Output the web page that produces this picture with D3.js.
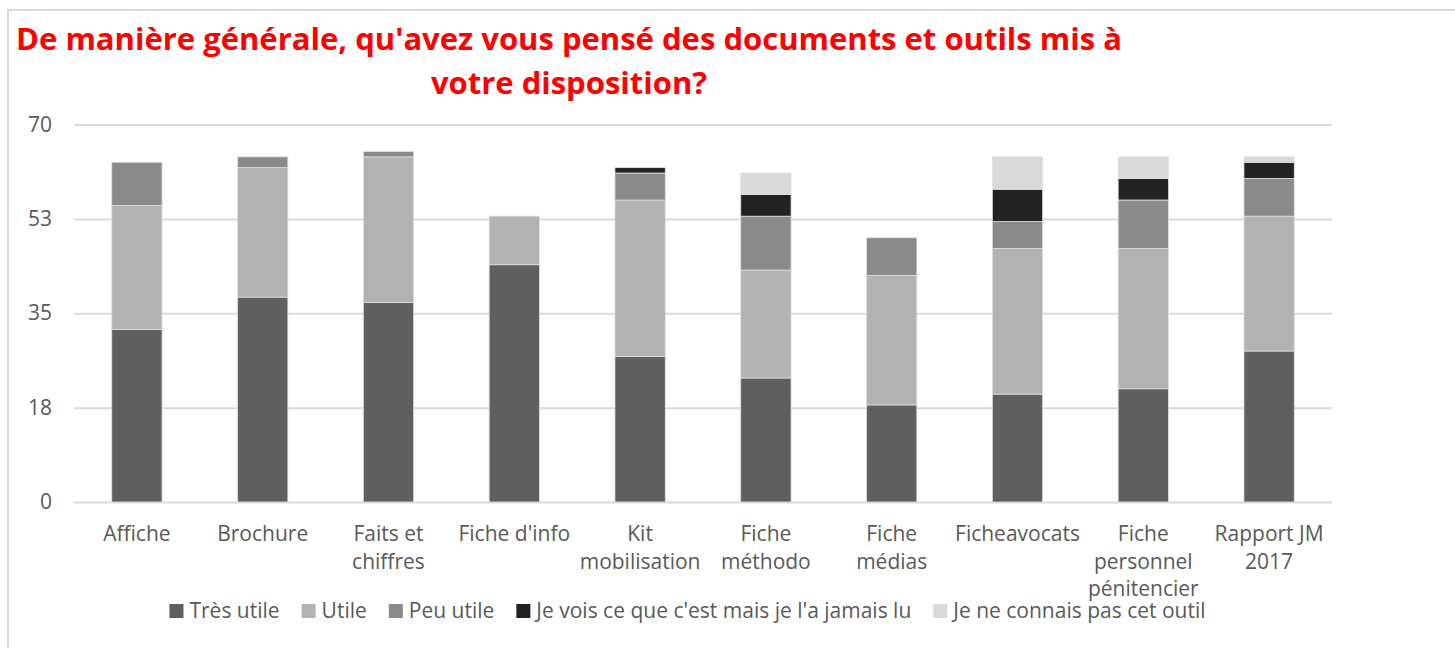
<!DOCTYPE html>
<html>
<head>
<meta charset="utf-8">
<script src="https://cdn.jsdelivr.net/npm/d3@7"></script>
<style>
	body { margin: 0; background: #fff; }
	svg { display: block; font-family: 'Open Sans', sans-serif; }
	.axis text { fill: #595959; }
	.title { fill: #ff0000; font-weight: bold; }
</style>
</head>
<body>
<svg id="chart" width="1455" height="648"></svg>
<script>
// data
const categories = ['Affiche', 'Brochure', 'Faits et chiffres', "Fiche d'info", 'Kit mobilisation',
	'Fiche méthodo', 'Fiche médias', 'Ficheavocats', 'Fiche personnel pénitencier', 'Rapport JM 2017'];
const seriesNames = ['Très utile', 'Utile', 'Peu utile', "Je vois ce que c'est mais je l'a jamais lu", 'Je ne connais pas cet outil'];
const tresUtile = [32, 38, 37, 44, 27, 23, 18, 20, 21, 28];
const utile = [23, 24, 27, 9, 29, 20, 24, 27, 26, 25];
const peuUtile = [8, 2, 1, 0, 5, 10, 7, 5, 9, 7];
const jamaisLu = [0, 0, 0, 0, 1, 4, 0, 6, 4, 3];
const connaisPas = [0, 0, 0, 0, 0, 4, 0, 6, 4, 1];
const colors = ['#5f5f5f', '#b2b2b2', '#8a8a8a', '#222222', '#d9d9d9'];
const yTickValues = [0, 17.5, 35, 52.5, 70];
const yTickLabels = ['0', '18', '35', '53', '70'];
const titleLines = ["De manière générale, qu'avez vous pensé des documents et outils mis à", 'votre disposition?'];

const margin = { top: 124.5, left: 74, right: 123, bottom: 146 };
const W = 1455, H = 648;
const fontSize = 21;

const svg = d3.select('#chart');

// outer frame
svg.append('rect')
	.attr('x', 8).attr('y', 10)
	.attr('width', 1500).attr('height', 700)
	.attr('fill', 'none')
	.attr('stroke', '#d9d9d9')
	.attr('stroke-width', 2);

// title
svg.append('text')
	.attr('class', 'title')
	.attr('text-anchor', 'middle')
	.attr('font-size', 31)
	.selectAll('tspan')
	.data(titleLines)
	.enter().append('tspan')
		.attr('x', 569)
		.attr('y', (d, i) => 50 + i * 44)
		.text(d => d);

const series = [tresUtile, utile, peuUtile, jamaisLu, connaisPas];
const rows = categories.map((c, i) => {
	const r = { cat: c };
	seriesNames.forEach((s, j) => { r[s] = series[j][i]; });
	return r;
});
const stacked = d3.stack().keys(seriesNames)(rows);

const x = d3.scaleBand()
	.domain(categories)
	.range([margin.left, W - margin.right])
	.paddingInner(0.6)
	.paddingOuter(0.3);

const y = d3.scaleLinear()
	.domain([0, 70])
	.range([H - margin.bottom, margin.top]);

// gridlines + y labels
svg.append('g')
	.attr('class', 'y-axis axis')
	.attr('transform', `translate(${margin.left}, 0)`)
	.call(d3.axisLeft(y)
		.tickValues(yTickValues)
		.tickSize(-(W - margin.right - margin.left))
		.tickPadding(22)
		.tickFormat((d, i) => yTickLabels[i]))
	.call(g => g.select('.domain').remove())
	.call(g => g.selectAll('line').attr('stroke', '#d9d9d9').attr('stroke-width', 2))
	.call(g => g.selectAll('text').attr('font-size', fontSize).attr('font-family', "'Open Sans', sans-serif"));

// bars
svg.append('g')
	.selectAll('g')
	.data(stacked)
	.enter().append('g')
		.attr('fill', (d, i) => colors[i])
	.selectAll('rect')
	.data(d => d.filter(p => p[1] > p[0]))
	.enter().append('rect')
		.attr('x', d => x(d.data.cat))
		.attr('y', d => y(d[1]))
		.attr('width', x.bandwidth())
		.attr('height', d => y(d[0]) - y(d[1]))
		.attr('stroke', '#e0e0e0')
		.attr('stroke-width', 0.8);

// category labels, wrapped at spaces like Excel
const xAxis = svg.append('g').attr('class', 'x-axis axis');
const maxLabel = 116;
categories.forEach(c => {
	const cx = x(c) + x.bandwidth() / 2;
	const t = xAxis.append('text')
		.attr('y', 541)
		.attr('text-anchor', 'middle')
		.attr('font-size', fontSize);
	let line = [];
	let tspan = t.append('tspan').attr('x', cx).attr('dy', 0);
	c.split(' ').forEach(w => {
		line.push(w);
		tspan.text(line.join(' '));
		if (tspan.node().getComputedTextLength() > maxLabel && line.length > 1) {
			line.pop();
			tspan.text(line.join(' '));
			line = [w];
			tspan = t.append('tspan')
				.attr('x', cx)
				.attr('dy', 27.5)
				.text(w);
		}
	});
});

// legend
const legend = svg.append('g').attr('class', 'axis');
const items = [];
seriesNames.forEach((s, i) => {
	const g = legend.append('g');
	g.append('rect')
		.attr('x', 0).attr('y', -14)
		.attr('width', 14).attr('height', 14)
		.attr('fill', colors[i]);
	const t = g.append('text')
		.attr('x', 20).attr('y', 0)
		.attr('font-size', fontSize)
		.text(s);
	items.push({ g, w: 20 + t.node().getComputedTextLength() });
});
let lx = 0;
items.forEach(it => {
	it.g.attr('transform', `translate(${lx}, 0)`);
	lx += it.w + 22;
});
lx -= 22;
legend.attr('transform', `translate(${687.5 - lx / 2}, 618)`);
</script>
</body>
</html>
